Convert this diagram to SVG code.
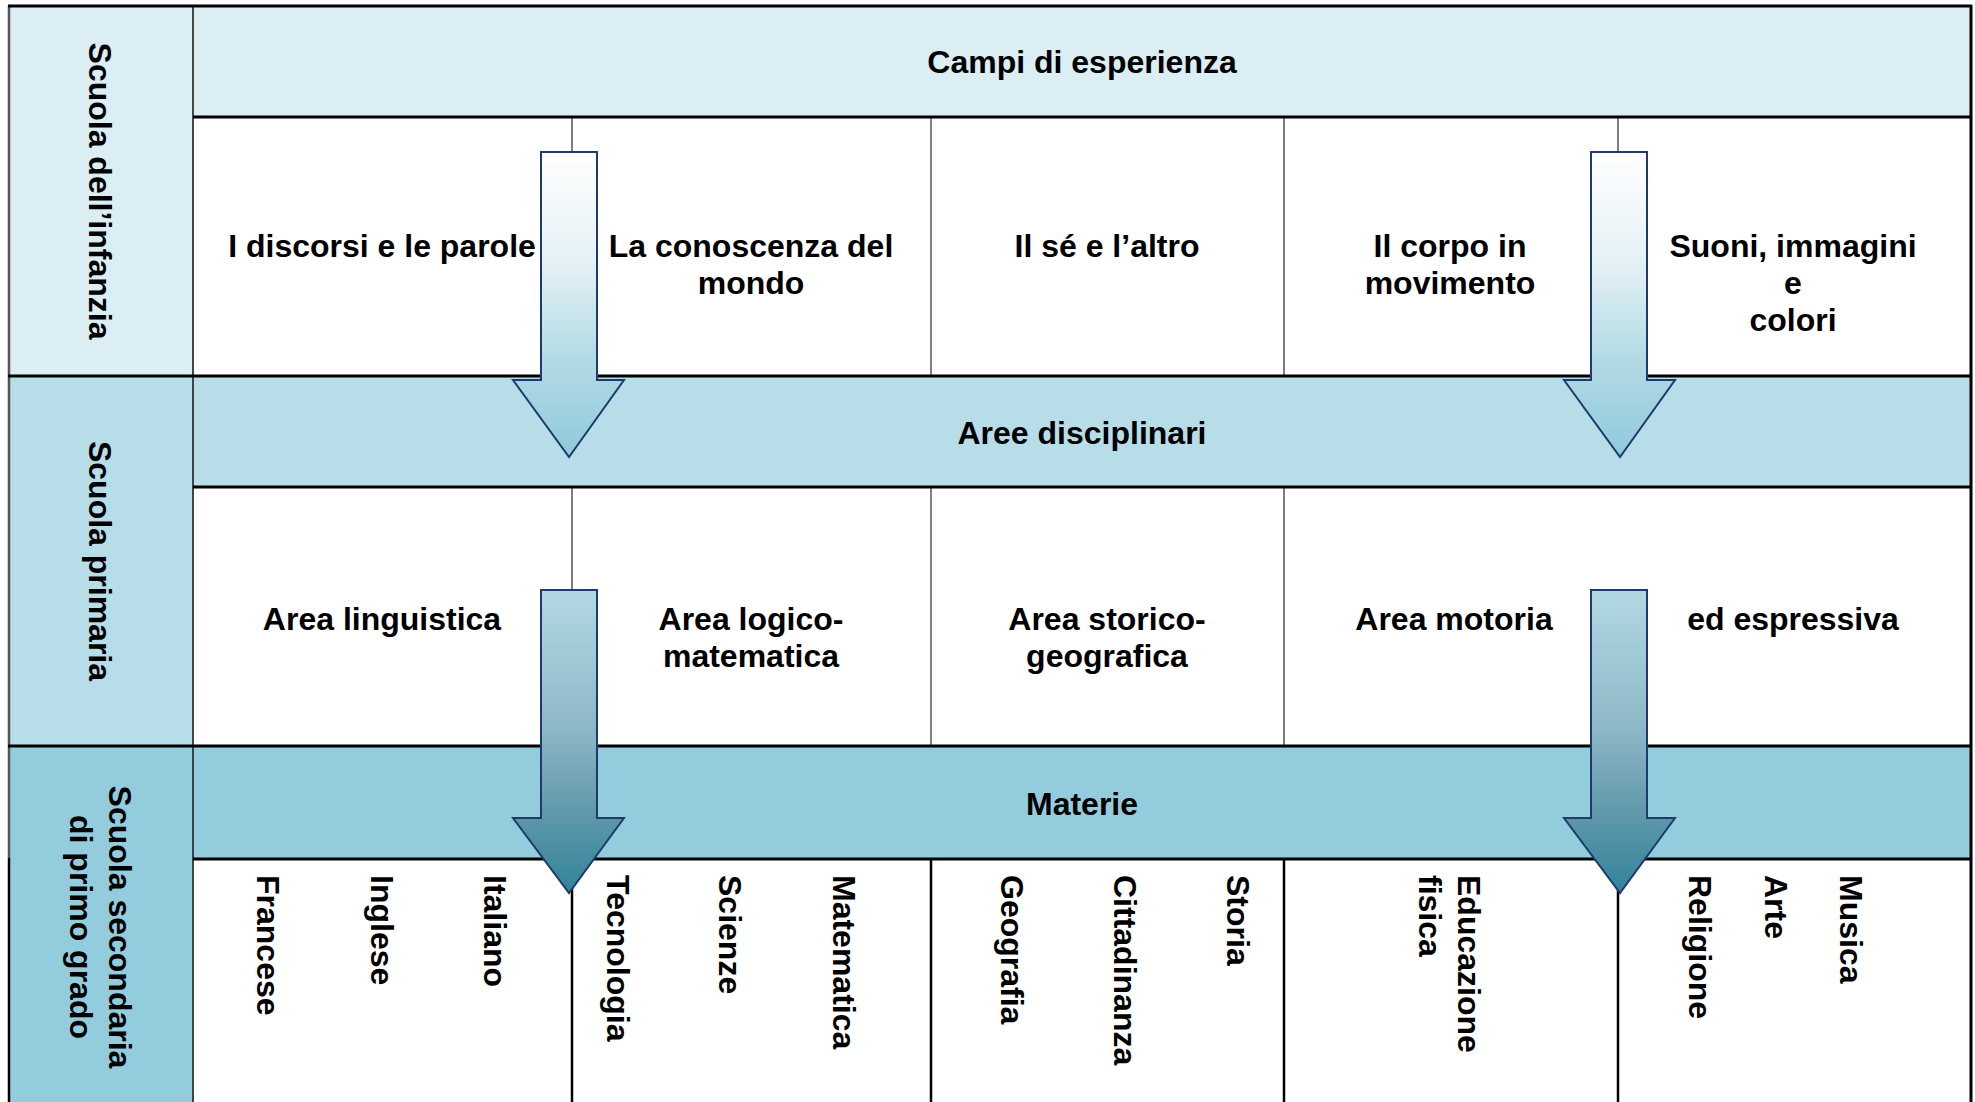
<svg xmlns="http://www.w3.org/2000/svg" width="1975" height="1102" viewBox="0 0 1975 1102">
  <defs>
    <linearGradient id="gUp" x1="0" y1="0" x2="0" y2="1">
      <stop offset="0" stop-color="#ffffff"/>
      <stop offset="0.35" stop-color="#e6f2f6"/>
      <stop offset="0.7" stop-color="#b0d9e4"/>
      <stop offset="1" stop-color="#8fcadb"/>
    </linearGradient>
    <linearGradient id="gDown" x1="0" y1="0" x2="0" y2="1">
      <stop offset="0" stop-color="#b2d8e3"/>
      <stop offset="0.45" stop-color="#8eb8c7"/>
      <stop offset="0.75" stop-color="#5d97a9"/>
      <stop offset="1" stop-color="#31849b"/>
    </linearGradient>
    <style>
      .t { font-family: "Liberation Sans", Arial, sans-serif; font-weight: bold; font-size: 32px; fill: #000; }
      .c { text-anchor: middle; }
      .v { dominant-baseline: central; }
      .hl { stroke: #000; stroke-width: 3; fill: none; }
      .dg { stroke: #555; stroke-width: 1.5; fill: none; }
      .dk { stroke: #000; stroke-width: 2.5; fill: none; }
      .arrow { stroke: #1f3a6e; stroke-width: 2; }
    </style>
  </defs>

  <rect x="0" y="0" width="1975" height="1102" fill="#ffffff"/>

  <!-- backgrounds -->
  <g id="backgrounds">
    <rect x="9" y="6" width="184" height="370" fill="#dbeef4"/>
    <rect x="9" y="376" width="184" height="370" fill="#b7dde8"/>
    <rect x="9" y="746" width="184" height="356" fill="#93cddd"/>
    <rect x="193" y="6" width="1778" height="111" fill="#dbeef4"/>
    <rect x="193" y="376" width="1778" height="111" fill="#b7dde8"/>
    <rect x="193" y="746" width="1778" height="113" fill="#93cddd"/>
  </g>

  <!-- grid lines -->
  <g id="grid">
    <line class="dg" x1="572" y1="117" x2="572" y2="376"/>
    <line class="dg" x1="931" y1="117" x2="931" y2="376"/>
    <line class="dg" x1="1284" y1="117" x2="1284" y2="376"/>
    <line class="dg" x1="1618" y1="117" x2="1618" y2="376"/>
    <line class="dg" x1="572" y1="487" x2="572" y2="746"/>
    <line class="dg" x1="931" y1="487" x2="931" y2="746"/>
    <line class="dg" x1="1284" y1="487" x2="1284" y2="746"/>
    <line class="dk" x1="572" y1="859" x2="572" y2="1102"/>
    <line class="dk" x1="931" y1="859" x2="931" y2="1102"/>
    <line class="dk" x1="1284" y1="859" x2="1284" y2="1102"/>
    <line class="dk" x1="1618" y1="859" x2="1618" y2="1102"/>
    <line x1="193" y1="6" x2="193" y2="1102" stroke="#333" stroke-width="1.8"/>
    <line x1="9" y1="6" x2="9" y2="858" stroke="#555" stroke-width="2.5"/>
    <line x1="9" y1="858" x2="9" y2="1102" stroke="#000" stroke-width="2.5"/>
    <line class="hl" x1="1971" y1="5" x2="1971" y2="1102"/>
    <line class="hl" x1="8" y1="6" x2="1972" y2="6"/>
    <line class="hl" x1="193" y1="117" x2="1972" y2="117"/>
    <line class="hl" x1="8" y1="376" x2="1972" y2="376"/>
    <line class="hl" x1="193" y1="487" x2="1972" y2="487"/>
    <line class="hl" x1="8" y1="746" x2="1972" y2="746"/>
    <line class="hl" x1="193" y1="859" x2="1972" y2="859"/>
  </g>

  <!-- left column -->
  <g id="node-infanzia">
    <text class="t c v" transform="translate(100,191) rotate(90)">Scuola dell’infanzia</text>
  </g>
  <g id="node-primaria">
    <text class="t c v" transform="translate(100,561) rotate(90)">Scuola primaria</text>
  </g>
  <g id="node-secondaria">
    <text class="t c v" transform="translate(120,927) rotate(90)">Scuola secondaria</text>
    <text class="t c v" transform="translate(81,927) rotate(90)">di primo grado</text>
  </g>

  <!-- headers -->
  <g id="node-campi"><text class="t c" x="1082" y="73">Campi di esperienza</text></g>
  <g id="node-aree"><text class="t c" x="1082" y="444">Aree disciplinari</text></g>
  <g id="node-materie"><text class="t c" x="1082" y="815">Materie</text></g>

  <!-- row 1 -->
  <g id="node-discorsi"><text class="t c" x="382" y="257">I discorsi e le parole</text></g>
  <g id="node-conoscenza">
    <text class="t c" x="751" y="257">La conoscenza del</text>
    <text class="t c" x="751" y="294">mondo</text>
  </g>
  <g id="node-se"><text class="t c" x="1107" y="257">Il sé e l’altro</text></g>
  <g id="node-corpo">
    <text class="t c" x="1450" y="257">Il corpo in</text>
    <text class="t c" x="1450" y="294">movimento</text>
  </g>
  <g id="node-suoni">
    <text class="t c" x="1793" y="257">Suoni, immagini</text>
    <text class="t c" x="1793" y="294">e</text>
    <text class="t c" x="1793" y="331">colori</text>
  </g>

  <!-- row 2 -->
  <g id="node-linguistica"><text class="t c" x="382" y="630">Area linguistica</text></g>
  <g id="node-logico">
    <text class="t c" x="751" y="630">Area logico-</text>
    <text class="t c" x="751" y="667">matematica</text>
  </g>
  <g id="node-storico">
    <text class="t c" x="1107" y="630">Area storico-</text>
    <text class="t c" x="1107" y="667">geografica</text>
  </g>
  <g id="node-motoria"><text class="t c" x="1454" y="630">Area motoria</text></g>
  <g id="node-espressiva"><text class="t c" x="1793" y="630">ed espressiva</text></g>

  <!-- row 3 subjects -->
  <g id="node-francese"><text class="t v" transform="translate(268,875) rotate(90)">Francese</text></g>
  <g id="node-inglese"><text class="t v" transform="translate(382,875) rotate(90)">Inglese</text></g>
  <g id="node-italiano"><text class="t v" transform="translate(495,875) rotate(90)">Italiano</text></g>
  <g id="node-tecnologia"><text class="t v" transform="translate(618,875) rotate(90)">Tecnologia</text></g>
  <g id="node-scienze"><text class="t v" transform="translate(730,875) rotate(90)">Scienze</text></g>
  <g id="node-matematica"><text class="t v" transform="translate(844,875) rotate(90)">Matematica</text></g>
  <g id="node-geografia"><text class="t v" transform="translate(1012,875) rotate(90)">Geografia</text></g>
  <g id="node-cittadinanza"><text class="t v" transform="translate(1125,875) rotate(90)">Cittadinanza</text></g>
  <g id="node-storia"><text class="t v" transform="translate(1238,875) rotate(90)">Storia</text></g>
  <g id="node-educazione">
    <text class="t v" transform="translate(1469,875) rotate(90)">Educazione</text>
    <text class="t v" transform="translate(1430,875) rotate(90)">fisica</text>
  </g>
  <g id="node-religione"><text class="t v" transform="translate(1700,875) rotate(90)">Religione</text></g>
  <g id="node-arte"><text class="t v" transform="translate(1776,875) rotate(90)">Arte</text></g>
  <g id="node-musica"><text class="t v" transform="translate(1851,875) rotate(90)">Musica</text></g>

  <!-- connectors -->
  <g id="connectors">
    <path class="arrow" fill="url(#gUp)" d="M541,152 L597,152 L597,380 L624,380 L569,457 L513,380 L541,380 Z"/>
    <path class="arrow" fill="url(#gUp)" d="M1591,152 L1647,152 L1647,380 L1675,380 L1620,457 L1564,380 L1591,380 Z"/>
    <path class="arrow" fill="url(#gDown)" d="M541,590 L597,590 L597,818 L624,818 L569,893 L513,818 L541,818 Z"/>
    <path class="arrow" fill="url(#gDown)" d="M1591,590 L1647,590 L1647,818 L1675,818 L1620,893 L1564,818 L1591,818 Z"/>
  </g>
</svg>
